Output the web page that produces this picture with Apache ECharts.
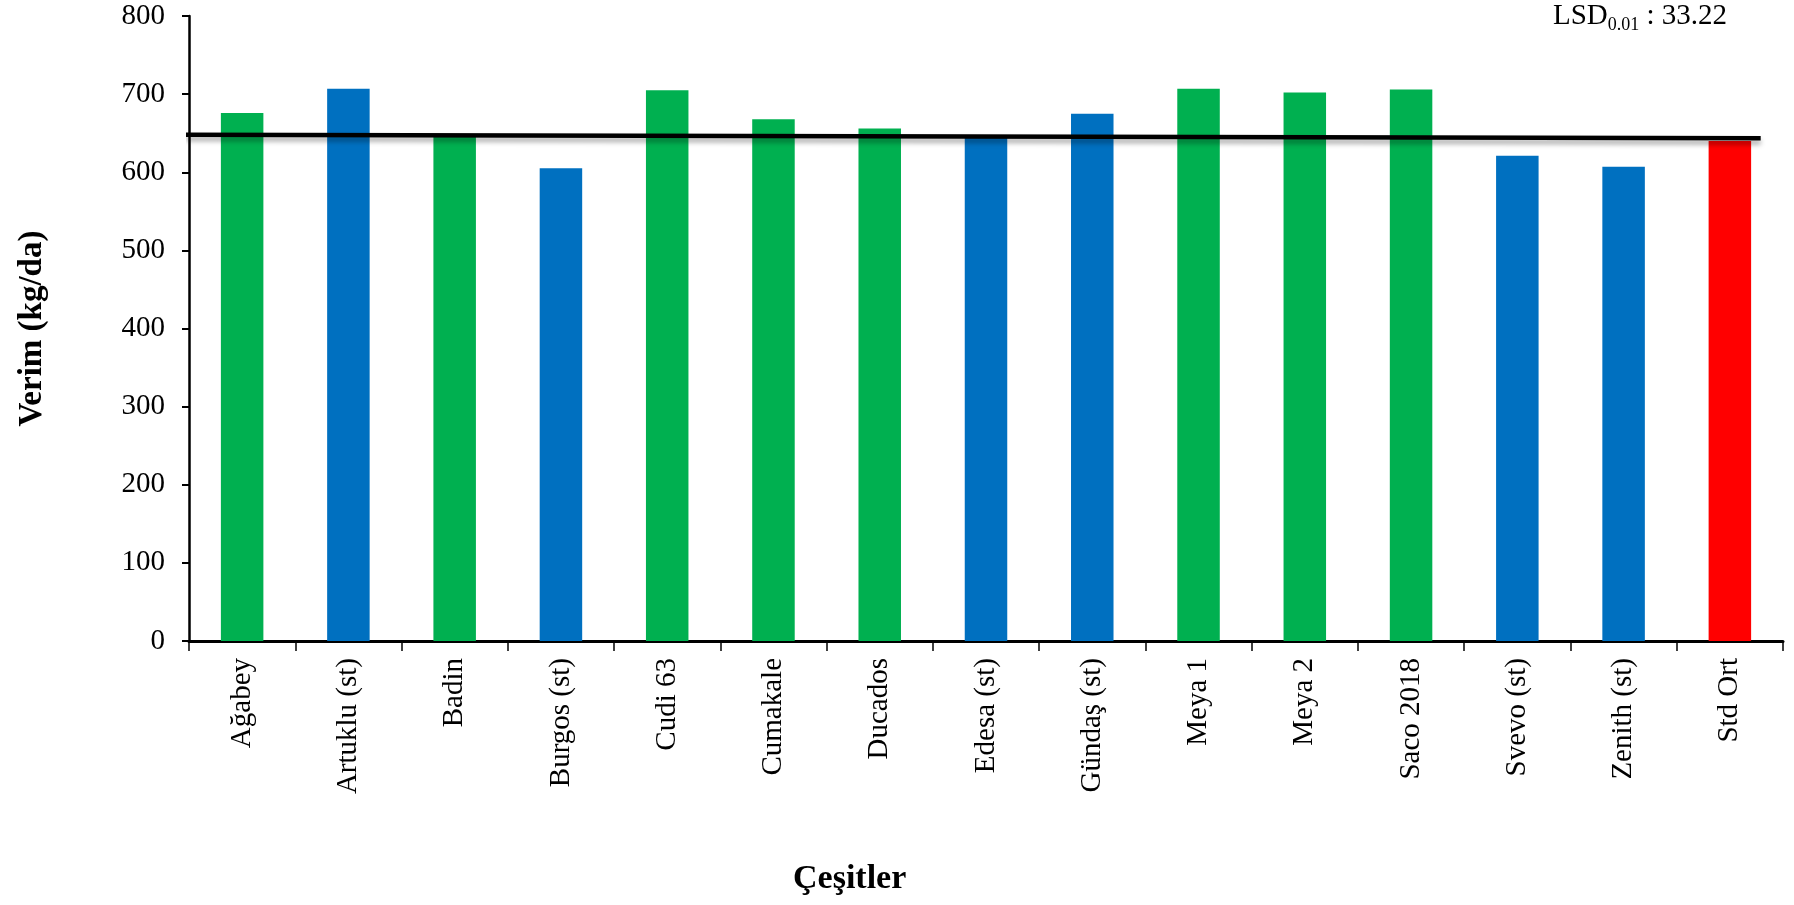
<!DOCTYPE html>
<html><head><meta charset="utf-8">
<script src="https://cdn.jsdelivr.net/npm/echarts@6/dist/echarts.min.js"></script>
<style>html,body{margin:0;padding:0;background:#fff}#c{width:1794px;height:905px}</style>
</head><body><div id="c"></div>
<script>
const categories = ['Ağabey','Artuklu (st)','Badin','Burgos (st)','Cudi 63','Cumakale','Ducados','Edesa (st)','Gündaş (st)','Meya 1','Meya 2','Saco 2018','Svevo (st)','Zenith (st)','Std Ort'];
const yields = [676, 707, 647, 605, 705, 668, 656, 645, 675, 707, 702, 706, 621, 607, 640];
const groups = ['new','st','new','st','new','new','new','st','st','new','new','new','st','st','mean'];
const trendX = [-0.03, 14.79];
const trendY = [648, 643.4];
const yTicks = [0,100,200,300,400,500,600,700,800];
const groupColors = {new:'#00B050', st:'#0070C0', mean:'#FF0000'};
const FONT = '"Liberation Serif", "Times New Roman", serif';

const chart = echarts.init(document.getElementById('c'));
chart.setOption({
  animation:false,
  textStyle:{fontFamily:FONT, color:'#000'},
  grid:{left:189, right:11, top:16, bottom:264},
  xAxis:[{
    type:'category', data:categories,
    axisLine:{lineStyle:{color:'#000', width:3}},
    axisTick:{show:true, length:10, lineStyle:{color:'#000', width:1.5}},
    axisLabel:{rotate:90, fontSize:29, color:'#000', fontFamily:FONT, margin:17, interval:0}
  },{
    type:'value', min:0, max:15, show:false
  }],
  yAxis:{
    type:'value', min:yTicks[0], max:yTicks[yTicks.length-1], interval:100,
    name:'Verim (kg/da)', nameLocation:'middle', nameGap:140,
    nameTextStyle:{fontSize:33, fontWeight:'bold', fontFamily:FONT, color:'#000'},
    axisLine:{show:true, lineStyle:{color:'#000', width:2.5}},
    axisTick:{show:true, length:7, lineStyle:{color:'#000', width:2}},
    axisLabel:{fontSize:29, color:'#000', fontFamily:FONT, margin:24},
    splitLine:{show:false}
  },
  series:[{
    type:'bar', barWidth:'40%',
    data:yields.map((v,i)=>({value:v, itemStyle:{color:groupColors[groups[i]]}}))
  },{
    type:'line', xAxisIndex:1, symbol:'none', clip:false,
    data:trendX.map((x,i)=>[x, trendY[i]]),
    lineStyle:{color:'#000', width:4.5, shadowColor:'rgba(0,0,0,0.35)', shadowBlur:5, shadowOffsetY:4}
  }],
  graphic:[{
    type:'text', left:793, top:862,
    style:{text:'Çeşitler', font:'bold 34px '+FONT, fill:'#000'}
  },{
    type:'text', left:1553, top:2,
    style:{
      text:'{a|LSD}{b|0.01}{a| : 33.22}',
      rich:{a:{fontSize:29, fontFamily:FONT, fill:'#000', verticalAlign:'bottom'},
            b:{fontSize:18, fontFamily:FONT, fill:'#000', verticalAlign:'bottom', padding:[0,0,-3,0]}}
    }
  }]
});
</script></body></html>
